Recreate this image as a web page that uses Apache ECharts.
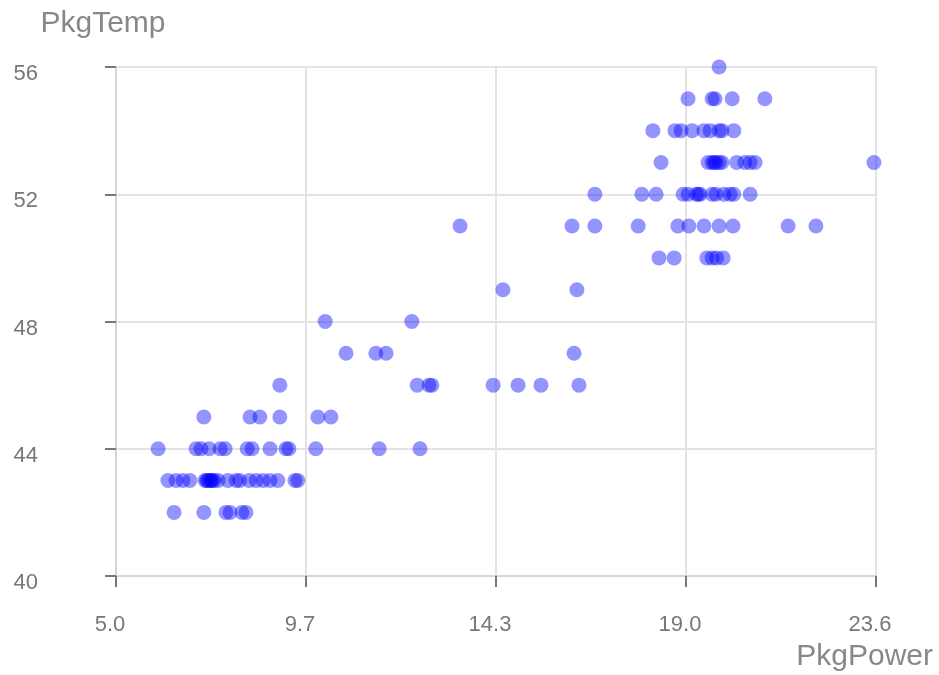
<!DOCTYPE html>
<html>
<head>
<meta charset="utf-8">
<title>PkgPower vs PkgTemp</title>
<script src="https://cdn.jsdelivr.net/npm/echarts@6/dist/echarts.min.js"></script>
<style>
    html, body { margin: 0; padding: 0; background: #fff; }
    #chart { width: 939px; height: 675px; }
</style>
</head>
<body>
<div id="chart"></div>
<script>
// PkgPower (W) / PkgTemp (C) samples, one line per temperature level
var pkgPower = [
    19.76,
    19.0, 19.59, 19.66, 20.08, 20.88,
    18.14, 18.68, 18.83, 19.10, 19.39, 19.54, 19.76, 19.83, 20.12,
    18.34, 19.49, 19.59, 19.64, 19.68, 19.76, 19.83, 20.19, 20.39, 20.52, 20.64, 23.55,
    16.72, 17.87, 18.22, 18.88, 19.0, 19.20, 19.25, 19.30, 19.59, 19.68, 19.88, 20.03, 20.12, 20.52,
    13.42, 16.16, 16.72, 17.78, 18.75, 19.02, 19.39, 19.76, 20.10, 21.45, 22.13,
    18.29, 18.66, 19.46, 19.59, 19.70, 19.86,
    14.47, 16.28,
    10.12, 12.24,
    10.63, 11.36, 11.61, 16.21,
    9.01, 12.37, 12.66, 12.73, 14.23, 14.84, 15.40, 16.33,
    7.15, 8.28, 8.52, 9.01, 9.94, 10.26,
    6.03, 6.96, 7.08, 7.28, 7.55, 7.67, 8.21, 8.33, 8.77, 9.16, 9.23, 9.89, 11.44, 12.44,
    6.27, 6.47, 6.64, 6.81, 7.18, 7.22, 7.25, 7.30, 7.33, 7.36, 7.40, 7.50, 7.74, 7.94, 8.03, 8.26, 8.43, 8.60, 8.77, 8.96, 9.38, 9.45,
    6.42, 7.15, 7.69, 7.79, 8.08, 8.18
];
var pkgTemp = [
    56,
    55, 55, 55, 55, 55,
    54, 54, 54, 54, 54, 54, 54, 54, 54,
    53, 53, 53, 53, 53, 53, 53, 53, 53, 53, 53, 53,
    52, 52, 52, 52, 52, 52, 52, 52, 52, 52, 52, 52, 52, 52,
    51, 51, 51, 51, 51, 51, 51, 51, 51, 51, 51,
    50, 50, 50, 50, 50, 50,
    49, 49,
    48, 48,
    47, 47, 47, 47,
    46, 46, 46, 46, 46, 46, 46, 46,
    45, 45, 45, 45, 45, 45,
    44, 44, 44, 44, 44, 44, 44, 44, 44, 44, 44, 44, 44, 44,
    43, 43, 43, 43, 43, 43, 43, 43, 43, 43, 43, 43, 43, 43, 43, 43, 43, 43, 43, 43, 43, 43,
    42, 42, 42, 42, 42, 42
];
var xTickValues = [5.0, 9.65, 14.3, 18.95, 23.6];
var xTickLabels = ['5.0', '9.7', '14.3', '19.0', '23.6'];
var yTicks = [40, 44, 48, 52, 56];

var points = [];
for (var i = 0; i < pkgPower.length; i++) {
    points.push([pkgPower[i], pkgTemp[i]]);
}

function xLabel(value) {
    for (var k = 0; k < xTickValues.length; k++) {
        if (Math.abs(value - xTickValues[k]) < 0.01) {
            return '{v|' + xTickLabels[k] + '}';
        }
    }
    return '';
}

var chart = echarts.init(document.getElementById('chart'));
var font = '"Liberation Sans", Arial, Helvetica, sans-serif';
var option = {
    animation: false,
    grid: {
        left: 116,
        right: 63,
        top: 67,
        bottom: 99
    },
    xAxis: {
        type: 'value',
        min: xTickValues[0],
        max: xTickValues[xTickValues.length - 1],
        name: 'PkgPower',
        nameLocation: 'end',
        nameGap: 57,
        nameTextStyle: {
            color: '#888',
            fontSize: 30,
            fontFamily: font,
            align: 'right',
            verticalAlign: 'top',
            padding: [66, 0, 0, 0]
        },
        axisLine: { show: true, lineStyle: { color: '#d6d6d6', width: 2 } },
        axisTick: {
            show: true,
            length: 11,
            customValues: xTickValues,
            lineStyle: { color: '#777', width: 2 }
        },
        axisLabel: {
            color: '#777',
            fontSize: 22,
            fontFamily: font,
            margin: 38,
            customValues: xTickValues,
            formatter: xLabel,
            rich: {
                v: {
                    color: '#777',
                    fontSize: 22,
                    fontFamily: font,
                    padding: [0, 12, 0, 0]
                }
            }
        },
        splitLine: { show: true, lineStyle: { color: '#e3e3e3', width: 2 } }
    },
    yAxis: {
        type: 'value',
        min: yTicks[0],
        max: yTicks[yTicks.length - 1],
        interval: 4,
        name: 'PkgTemp',
        nameLocation: 'end',
        nameGap: 28,
        nameTextStyle: {
            color: '#888',
            fontSize: 30,
            fontFamily: font,
            padding: [0, 26, 0, 0]
        },
        axisLine: { show: true, lineStyle: { color: '#d6d6d6', width: 2 } },
        axisTick: { show: true, length: 11, lineStyle: { color: '#777', width: 2 } },
        axisLabel: {
            color: '#777',
            fontSize: 22,
            fontFamily: font,
            margin: 78,
            verticalAlign: 'top',
            lineHeight: 14
        },
        splitLine: { show: true, lineStyle: { color: '#e3e3e3', width: 2 } }
    },
    series: [
        {
            name: 'PkgTemp',
            type: 'scatter',
            symbolSize: 15,
            itemStyle: { color: '#0000ff', opacity: 0.42 },
            data: points
        }
    ]
};
chart.setOption(option);
</script>
</body>
</html>
